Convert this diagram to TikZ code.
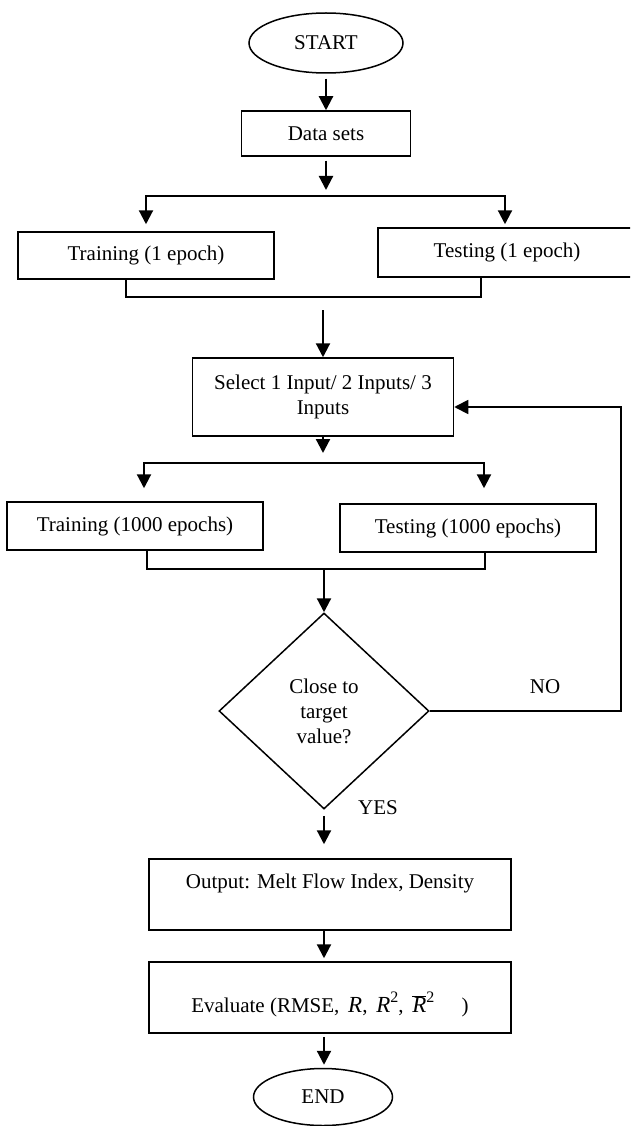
\documentclass[tikz,border=0pt]{standalone}
\usepackage{fontspec}
\setmainfont{Liberation Serif}
\usetikzlibrary{shapes.geometric,arrows.meta}

\tikzset{
	flow text/.style={font=\fontsize{21}{25}\selectfont, align=center},
	proc box/.style={draw, line width=1.5pt, rectangle, inner sep=0pt, flow text},
	term/.style={draw, line width=1.5pt, ellipse, inner sep=0pt, flow text},
	decide/.style={draw, line width=1.5pt, diamond, inner sep=0pt, flow text},
	flow arrow/.style={line width=2.2pt, -{Triangle[length=14pt,width=14pt]}},
	flow line/.style={line width=1.5pt}
}
\newcommand{\bigR}{{\fontsize{23}{25}\selectfont\textit{R}}}
\newcommand{\supTwo}{\raisebox{0.5em}{\fontsize{16}{16}\selectfont 2}}

\begin{document}
\begin{tikzpicture}[x=1pt, y=-1pt]
		\path[use as bounding box, clip] (0,0) rectangle (630,1126);
		% boxes
		\node[term, minimum width=154pt, minimum height=60pt] (start) at (326,43) {START};
		\node[proc box, minimum width=169pt, minimum height=45pt] (data) at (326,133.5) {Data sets};
		\node[proc box, minimum width=256pt, minimum height=47pt] (train1) at (146,255.5) {Training (1 epoch)};
		\node[proc box, minimum width=258pt, minimum height=49pt] (test1) at (507,252.5) {Testing (1 epoch)};
		\node[proc box, minimum width=261pt, minimum height=78pt] (select) at (323,397) {Select 1 Input/ 2 Inputs/ 3\\Inputs};
		\node[proc box, minimum width=256pt, minimum height=48pt] (train2) at (135,526) {Training (1000 epochs)};
		\node[proc box, minimum width=256pt, minimum height=48pt] (test2) at (468,528) {Testing (1000 epochs)};
		\node[decide, minimum width=210pt, minimum height=196pt] (check) at (324,711) {Close to\\target\\value?};
		\node[proc box, minimum width=362pt, minimum height=71pt, text depth=27pt] (output) at (330,894.5) {Output: Melt Flow Index, Density};
		\node[proc box, minimum width=362pt, minimum height=71pt, text height=35pt] (eval) at (330,997.5) {Evaluate (RMSE, \,\bigR, \,\bigR\supTwo, \,$\overline{\mbox{\bigR}}$\supTwo\hspace{1.3em})};
		\node[term, minimum width=139pt, minimum height=57pt] (stop) at (323,1097) {END};
		\node[flow text] (no) at (545,687) {NO};
		\node[flow text] (yes) at (378,808) {YES};
		% forks and joins
		\coordinate (fork1) at (326,196);
		\coordinate (join1) at (323,297);
		\coordinate (fork2) at (323,463);
		\coordinate (join2) at (324,569);
		\coordinate (loop) at (621,711);
		% connectors
		\draw[flow arrow, shorten <=5pt] (start.south) -- (data.north);
		\draw[flow arrow, shorten <=4pt, shorten >=6pt] (data.south) -- (fork1);
		\draw[flow arrow, shorten >=7pt] (fork1) -| (train1.north);
		\draw[flow arrow, shorten >=3pt] (fork1) -| ([xshift=-2pt]test1.north);
		\draw[flow line] ([xshift=-20pt]train1.south) |- (join1) -| ([xshift=-26pt]test1.south);
		\draw[flow arrow, shorten <=13pt] (join1) -- (select.north);
		\draw[flow arrow, shorten >=10pt] (select.south) -- (fork2);
		\draw[flow arrow, shorten >=13pt] (fork2) -| ([xshift=9pt]train2.north);
		\draw[flow arrow, shorten >=15pt] (fork2) -| ([xshift=16pt]test2.north);
		\draw[flow line] ([xshift=12pt]train2.south) |- (join2) -| ([xshift=17pt]test2.south);
		\draw[flow arrow] (join2) -- (check.north);
		\draw[flow arrow, shorten <=6pt, shorten >=14pt] (check.south) -- (check.south |- output.north);
		\draw[flow arrow, shorten >=3pt] (output.south -| check) -- (eval.north -| check);
		\draw[flow arrow, shorten <=3pt, shorten >=3pt] (eval.south -| check) -- (stop.north -| check);
		\draw[flow arrow, line width=1.8pt] (check.east) -- (loop) |- ([yshift=-10pt]select.east);
\end{tikzpicture}
\end{document}
